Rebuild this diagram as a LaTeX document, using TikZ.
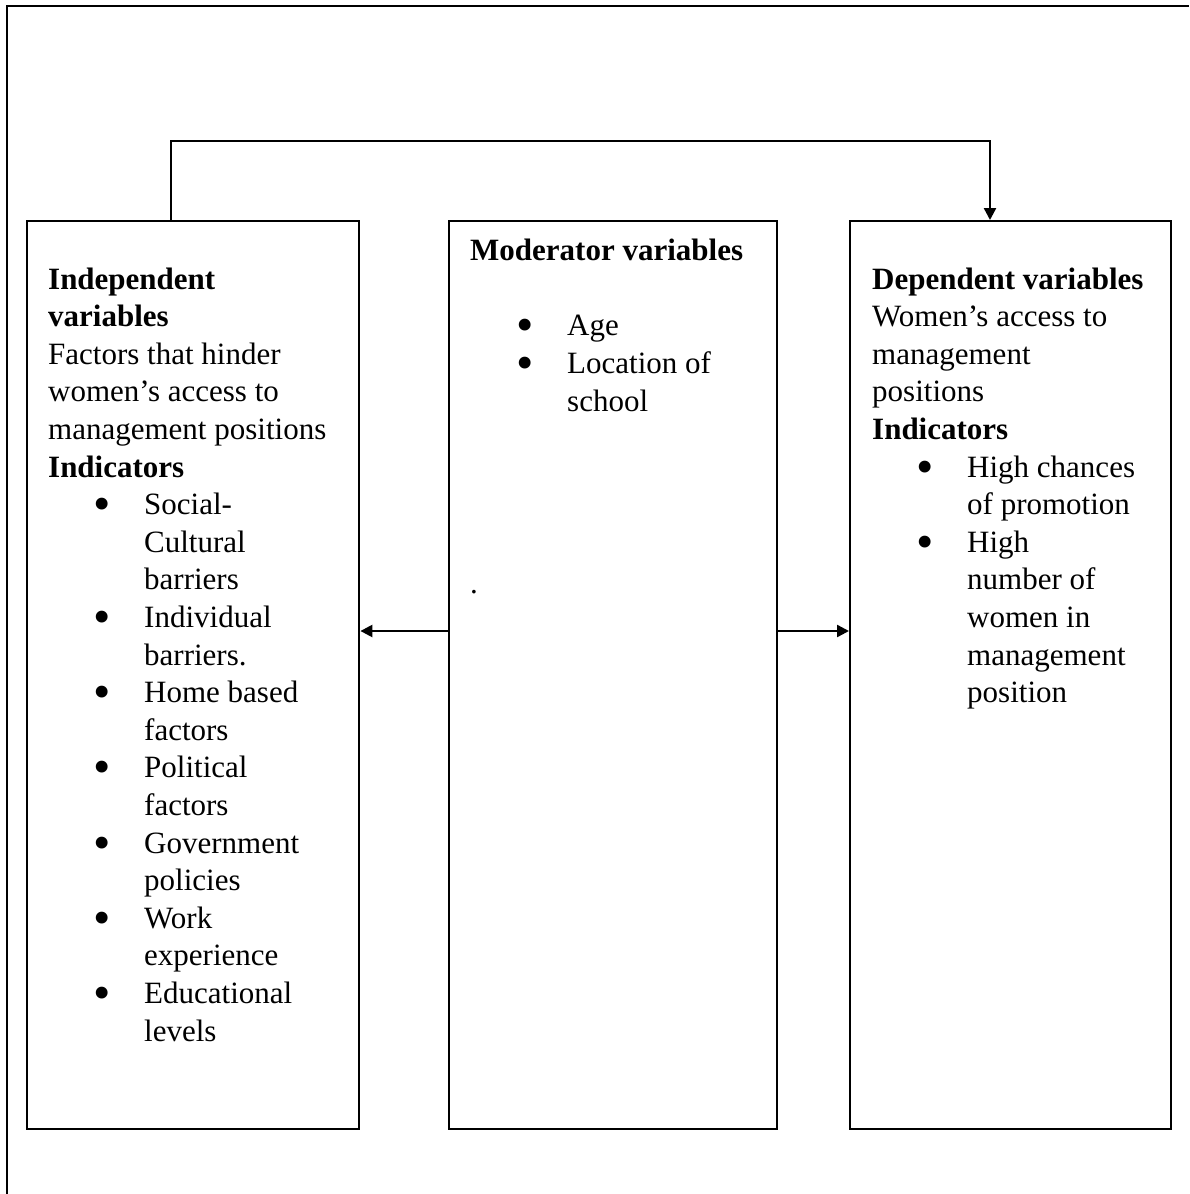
\documentclass[tikz,border=0pt]{standalone}
\usepackage{fontspec}
\setmainfont{Liberation Serif}
\usetikzlibrary{arrows.meta,calc}
\newcommand\tline[4]{\node[txt] (#1) at (#2,#3) {#4};}
\newcommand\bitem[4]{\node[txt] (#1) at (#2,#3) {\makebox[0pt][r]{\raisebox{-6pt}[0pt][0pt]{\scalebox{1.6}{\textbullet}}\hspace*{33pt}}#4};}
\begin{document}
\begin{tikzpicture}[x=1pt,y=-1pt,
  txt/.style={anchor=base west,inner sep=0pt,font=\fontsize{31}{37.6}\selectfont},
  box/.style={draw,line width=2.4pt,anchor=north west,inner sep=0pt,minimum height=908pt},
  arr/.style={line width=2.4pt,-{Triangle[length=12pt,width=12pt]}}]
\useasboundingbox (0,0) rectangle (1189,1194);
% outer frame (partially visible)
\draw[line width=2.4pt] (7,1194) -- (7,6) -- (1189,6);
% boxes
\node[box,minimum width=332pt] (L) at (26,220) {};
\node[box,minimum width=328pt] (M) at (448,220) {};
\node[box,minimum width=321pt] (R) at (849,220) {};
% connectors
\draw[arr] ($(L.north west)+(145,0)$) -- ++(0,-79) -| ($(R.north west)+(141,0)$);
\draw[arr] (M.west |- 0,631) -- (L.east |- 0,631);
\draw[arr] (M.east |- 0,631) -- (R.west |- 0,631);
% left text
\tline{l1}{48}{289}{\textbf{Independent}}
\tline{l2}{48}{326.6}{\textbf{variables}}
\tline{l3}{48}{364.2}{Factors that hinder}
\tline{l4}{48}{401.8}{women’s access to}
\tline{l5}{48}{439.4}{management positions}
\tline{l6}{48}{477}{\textbf{Indicators}}
\bitem{l7}{144}{514.6}{Social-}
\tline{l8}{144}{552.2}{Cultural}
\tline{l9}{144}{589.8}{barriers}
\bitem{l10}{144}{627.4}{Individual}
\tline{l11}{144}{665}{barriers.}
\bitem{l12}{144}{702.6}{Home based}
\tline{l13}{144}{740.2}{factors}
\bitem{l14}{144}{777.8}{Political}
\tline{l15}{144}{815.4}{factors}
\bitem{l16}{144}{853}{Government}
\tline{l17}{144}{890.6}{policies}
\bitem{l18}{144}{928.2}{Work}
\tline{l19}{144}{965.8}{experience}
\bitem{l20}{144}{1003.4}{Educational}
\tline{l21}{144}{1041}{levels}
% middle text
\tline{m1}{470}{260}{\textbf{Moderator variables}}
\bitem{m2}{567}{335}{Age}
\bitem{m3}{567}{373}{Location of}
\tline{m4}{567}{411}{school}
\tline{m5}{470}{593}{.}
% right text
\tline{r1}{872}{289}{\textbf{Dependent variables}}
\tline{r2}{872}{326.6}{Women’s access to}
\tline{r3}{872}{364.2}{management}
\tline{r4}{872}{401.8}{positions}
\tline{r5}{872}{439.4}{\textbf{Indicators}}
\bitem{r6}{967}{477}{High chances}
\tline{r7}{967}{514.6}{of promotion}
\bitem{r8}{967}{552.2}{High}
\tline{r9}{967}{589.8}{number of}
\tline{r10}{967}{627.4}{women in}
\tline{r11}{967}{665}{management}
\tline{r12}{967}{702.6}{position}
\end{tikzpicture}
\end{document}
